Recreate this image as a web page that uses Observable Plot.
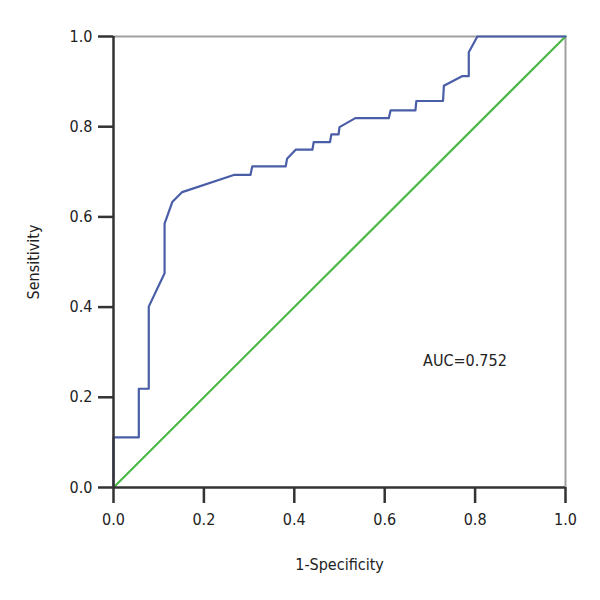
<!DOCTYPE html>
<html>
<head>
<meta charset="utf-8">
<script src="https://cdn.jsdelivr.net/npm/d3@7"></script>
<script src="https://cdn.jsdelivr.net/npm/@observablehq/plot@0.6"></script>
<style>
  body { margin: 0; background: #fff; }
  #chart svg { font-family: "Liberation Sans Narrow", "DejaVu Sans Condensed", "Roboto", sans-serif; }
</style>
</head>
<body>
<div id="chart"></div>
<script>
// ROC curve points (1-Specificity, Sensitivity)
const fpr = [0, 0, 0.056, 0.056, 0.078, 0.078, 0.113, 0.113, 0.130, 0.152, 0.266, 0.303, 0.307, 0.381, 0.384, 0.403, 0.440, 0.443, 0.479, 0.482, 0.498, 0.500, 0.535, 0.609, 0.613, 0.668, 0.670, 0.729, 0.731, 0.771, 0.786, 0.786, 0.805, 1.0];
const tpr = [0, 0.111, 0.111, 0.219, 0.219, 0.401, 0.475, 0.585, 0.633, 0.655, 0.693, 0.693, 0.712, 0.712, 0.729, 0.749, 0.749, 0.766, 0.766, 0.783, 0.783, 0.799, 0.819, 0.819, 0.836, 0.836, 0.857, 0.857, 0.891, 0.912, 0.912, 0.965, 1.0, 1.0];
const refX = [0, 1];
const refY = [0, 1];
const ticks = [0, 0.2, 0.4, 0.6, 0.8, 1.0];
const aucLabel = "AUC=0.752";
const aucPos = {x: 0.685, y: 0.28};

const roc = fpr.map((x, i) => ({x, y: tpr[i]}));
const diag = refX.map((x, i) => ({x, y: refY[i]}));

const chart = Plot.plot({
  width: 600,
  height: 600,
  marginLeft: 113,
  marginRight: 35,
  marginTop: 36,
  marginBottom: 113,
  style: {fontSize: "16px", color: "#222"},
  x: {domain: [0, 1]},
  y: {domain: [0, 1]},
  marks: [
    Plot.ruleY([1], {stroke: "#a0a0a0", strokeWidth: 2}),
    Plot.ruleX([1], {stroke: "#a0a0a0", strokeWidth: 2}),
    Plot.line(diag, {x: "x", y: "y", stroke: "#4cb848", strokeWidth: 2.2}),
    Plot.line(roc, {x: "x", y: "y", stroke: "#4a5ea8", strokeWidth: 2.2, curve: "linear"}),
    Plot.ruleX([0], {stroke: "#333", strokeWidth: 2.5}),
    Plot.ruleY([0], {stroke: "#333", strokeWidth: 2.5}),
    Plot.axisX({ticks, tickFormat: d3.format(".1f"), tickSize: 16, tickPadding: 10, strokeWidth: 2.5, stroke: "#333", label: "1-Specificity", labelAnchor: "center", labelArrow: "none", labelOffset: 82, fontSize: 16}),
    Plot.axisY({ticks, tickFormat: d3.format(".1f"), tickSize: 15, tickPadding: 6, strokeWidth: 2.5, stroke: "#333", label: "Sensitivity", labelAnchor: "center", labelArrow: "none", labelOffset: 86, fontSize: 16}),
    Plot.text([aucPos], {x: "x", y: "y", text: () => aucLabel, textAnchor: "start", fontSize: 16, fill: "#222"})
  ]
});
document.getElementById("chart").appendChild(chart);
</script>
</body>
</html>
